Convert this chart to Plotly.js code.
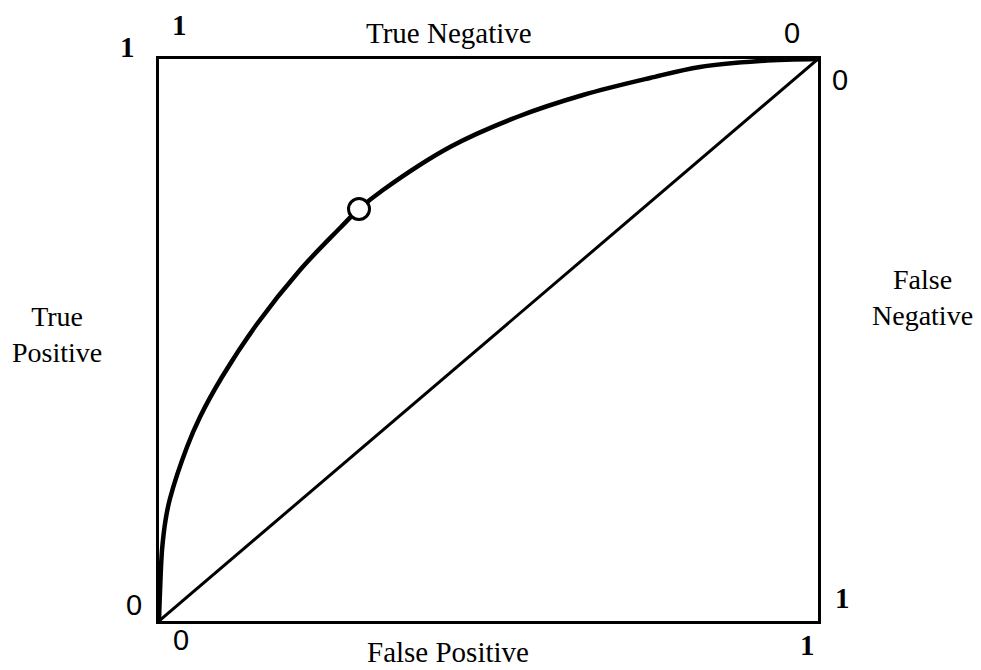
<!DOCTYPE html>
<html>
<head>
<meta charset="utf-8">
<script src="https://cdn.plot.ly/plotly-3.0.1.min.js"></script>
<style>
  html, body { margin: 0; padding: 0; background: #fff; }
  #chart { width: 981px; height: 670px; }
</style>
</head>
<body>
<div id="chart"></div>
<script>
// ROC curve: false positive rate (x) against true positive rate (y)
const falsePositive = [0, 0.0015, 0.0046, 0.0100, 0.0167, 0.0425, 0.0622, 0.0956, 0.1487, 0.2140, 0.2747, 0.3035, 0.3399, 0.4416, 0.5432, 0.6434, 0.7451, 0.8209, 0.9120, 1.0];
const truePositive  = [0, 0.0516, 0.1263, 0.1800, 0.2180, 0.3096, 0.3630, 0.4342, 0.5285, 0.6246, 0.6993, 0.7331, 0.7669, 0.8434, 0.8968, 0.9359, 0.9662, 0.9858, 0.9964, 1.0];

// Chance diagonal
const chanceX = [0, 1];
const chanceY = [0, 1];

// Operating point marked on the curve
const operatingX = [0.3035];
const operatingY = [0.7331];

// Corner values of the four rates
const cornerLabels = {
  tnHigh: '1', tnLow: '0',
  tpHigh: '1', tpLow: '0',
  fnLow: '0', fnHigh: '1',
  fpLow: '0', fpHigh: '1'
};

const W = 981, H = 670;
const margin = { l: 159, r: 163, t: 59, b: 49 };
const plotW = W - margin.l - margin.r;
const plotH = H - margin.t - margin.b;

// Pixel position on the page -> paper coordinates
function px(x) { return (x - margin.l) / plotW; }
function py(y) { return (H - margin.b - y) / plotH; }

const serif = 'Liberation Serif, Times New Roman, serif';
const sans = 'Liberation Sans, Arial, sans-serif';

function label(text, x, y, fam, size, bold) {
  return {
    text: text, xref: 'paper', yref: 'paper',
    x: px(x), y: py(y), xanchor: 'center', yanchor: 'middle',
    showarrow: false,
    font: { family: fam, size: size, color: '#000', weight: bold ? 'bold' : 'normal' }
  };
}

const traces = [
  {
    x: chanceX, y: chanceY, mode: 'lines', type: 'scatter',
    line: { color: '#000', width: 3 }, hoverinfo: 'skip'
  },
  {
    x: falsePositive, y: truePositive, mode: 'lines', type: 'scatter',
    line: { color: '#000', width: 4.5, shape: 'spline', smoothing: 1 }, hoverinfo: 'skip'
  },
  {
    x: operatingX, y: operatingY, mode: 'markers', type: 'scatter',
    marker: { size: 21, color: '#fff', line: { color: '#000', width: 3 } },
    hoverinfo: 'skip'
  }
];

const axisBase = {
  range: [0, 1], showgrid: false, zeroline: false, ticks: '',
  showticklabels: false, showline: true, mirror: true,
  linecolor: '#000', linewidth: 3, fixedrange: true
};

const layout = {
  width: W, height: H,
  margin: margin,
  paper_bgcolor: '#fff', plot_bgcolor: '#fff',
  showlegend: false,
  xaxis: Object.assign({}, axisBase),
  yaxis: Object.assign({}, axisBase),
  annotations: [
    label('True Negative', 449, 33, serif, 29),
    label('True<br>Positive', 57, 334, serif, 28),
    label('False<br>Negative', 922, 297, serif, 28),
    label('False Positive', 448, 652, serif, 29),
    label(cornerLabels.tnHigh, 179, 25, serif, 29, true),
    label(cornerLabels.tpHigh, 127, 47, serif, 29, true),
    label(cornerLabels.tnLow, 792, 33, sans, 29),
    label(cornerLabels.fnLow, 840, 80, sans, 29),
    label(cornerLabels.tpLow, 134, 605, sans, 29),
    label(cornerLabels.fpLow, 181, 640, sans, 29),
    label(cornerLabels.fnHigh, 842, 598, serif, 29, true),
    label(cornerLabels.fpHigh, 807, 645, serif, 29, true)
  ]
};

Plotly.newPlot('chart', traces, layout, { staticPlot: true, displayModeBar: false });
</script>
</body>
</html>
